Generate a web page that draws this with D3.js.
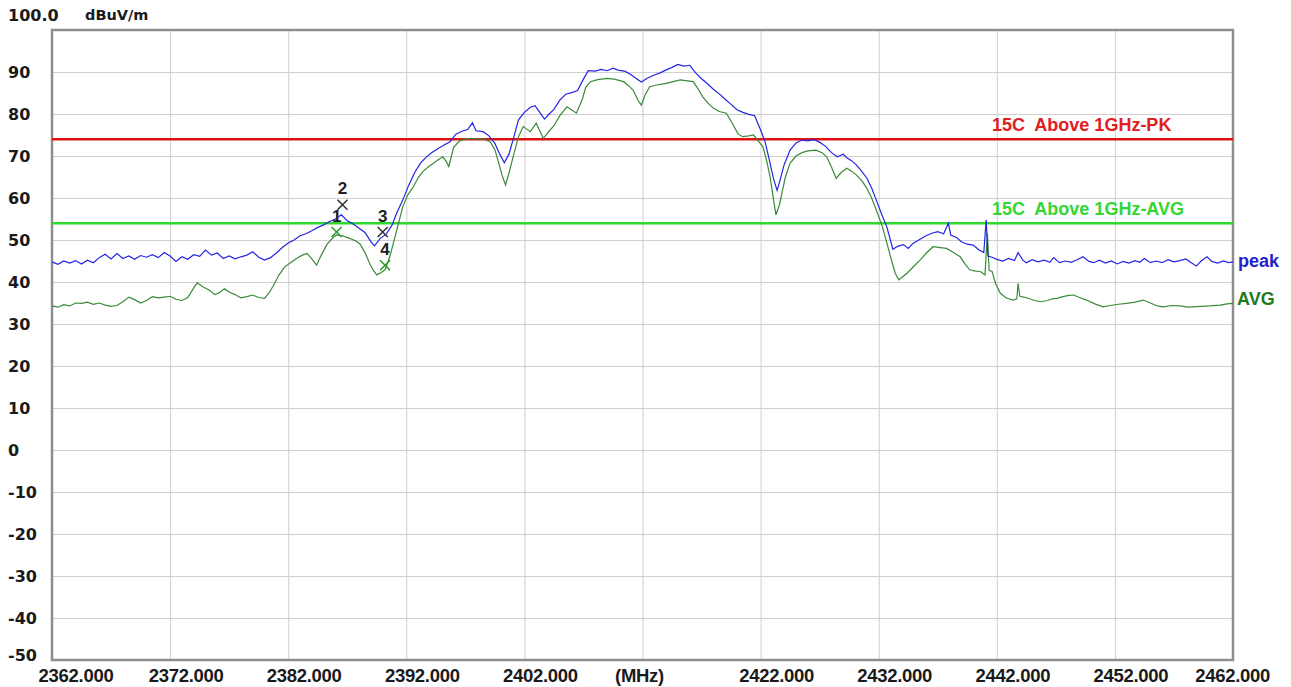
<!DOCTYPE html>
<html>
<head>
<meta charset="utf-8">
<script src="https://cdn.jsdelivr.net/npm/d3@7"></script>
<style>
  body { margin: 0; background: #fff; }
  svg { display: block; }
</style>
</head>
<body>
<svg id="chart" width="1291" height="687"></svg>
<script>
// frequency axis (MHz) and level axis (dBuV/m)
const xTicks = [2362, 2372, 2382, 2392, 2402, 2412, 2422, 2432, 2442, 2452, 2462]
const xTickLabels = ['2362.000', '2372.000', '2382.000', '2392.000', '2402.000', '(MHz)', '2422.000', '2432.000', '2442.000', '2452.000', '2462.000']
const yTicks = [100, 90, 80, 70, 60, 50, 40, 30, 20, 10, 0, -10, -20, -30, -40, -50]
const yTickLabels = ['100.0', '90', '80', '70', '60', '50', '40', '30', '20', '10', '0', '-10', '-20', '-30', '-40', '-50']

// limit lines
const limitNames = ['15C  Above 1GHz-PK', '15C  Above 1GHz-AVG']
const limitValues = [74, 54]

// peak trace
const peakMHz = [2362, 2362.5, 2363, 2363.5, 2364, 2364.5, 2365, 2365.5, 2366, 2366.5, 2367, 2367.5, 2368, 2368.5, 2369, 2369.5, 2370, 2370.5, 2371, 2371.5,
  2372, 2372.5, 2373, 2373.5, 2374, 2374.5, 2375, 2375.5, 2376, 2376.5, 2377, 2377.5, 2378, 2378.5, 2379, 2379.5, 2380, 2380.5, 2381, 2381.5,
  2382, 2382.5, 2383, 2383.5, 2384, 2384.5, 2385, 2385.5, 2386, 2386.5, 2387, 2387.5, 2388, 2388.5, 2389, 2389.3, 2389.8, 2390.3, 2390.8, 2391.2,
  2391.7, 2392.2, 2392.7, 2393.2, 2393.7, 2394.2, 2394.7, 2395.2, 2395.7, 2396.2, 2396.7, 2397.2, 2397.6, 2397.9, 2398.5, 2399, 2399.5, 2399.9, 2400.3, 2400.7,
  2401.1, 2401.5, 2402, 2402.5, 2402.9, 2403.3, 2403.7, 2404.1, 2404.5, 2405, 2405.5, 2406, 2406.5, 2407, 2407.4, 2408, 2408.5, 2409, 2409.5, 2410,
  2410.5, 2411, 2411.5, 2411.9, 2412.4, 2413, 2413.5, 2414, 2414.5, 2415, 2415.5, 2416, 2416.5, 2417, 2417.5, 2418, 2418.5, 2419, 2419.5, 2420,
  2420.5, 2421, 2421.5, 2422, 2422.4, 2422.8, 2423.1, 2423.4, 2423.7, 2424, 2424.5, 2425, 2425.5, 2426, 2426.5, 2427, 2427.5, 2428, 2428.5, 2429,
  2429.3, 2429.7, 2430.1, 2430.5, 2431, 2431.4, 2431.8, 2432.2, 2432.7, 2433.2, 2433.6, 2434.1, 2434.5, 2434.9, 2435.5, 2436, 2436.5, 2437, 2437.5, 2437.9,
  2438.1, 2438.6, 2439, 2439.5, 2440, 2440.5, 2440.9, 2441.1, 2441.25, 2441.6, 2442, 2442.5, 2443, 2443.5, 2443.8, 2444.2, 2444.5, 2445, 2445.5, 2446,
  2446.5, 2446.8, 2447.3, 2447.8, 2448.3, 2448.8, 2449.3, 2449.8, 2450.2, 2450.7, 2451.2, 2451.7, 2452.2, 2452.7, 2453.2, 2453.7, 2454.1, 2454.5, 2455, 2455.5,
  2456, 2456.5, 2457, 2457.5, 2458, 2458.5, 2458.9, 2459.3, 2459.8, 2460.2, 2460.7, 2461.2, 2461.6, 2462]
const peakDb = [44.8, 44.2, 45.0, 44.5, 45.1, 44.3, 45.2, 44.6, 45.8, 46.6, 45.5, 46.8, 45.6, 46.2, 45.4, 46.3, 45.9, 46.5, 45.8, 47.0,
  46.2, 44.9, 46.0, 45.4, 46.5, 46.1, 47.6, 46.4, 46.9, 45.6, 46.2, 45.5, 46.0, 46.4, 47.2, 45.9, 45.2, 45.8, 46.9, 48.2,
  49.3, 50.0, 51.0, 51.5, 52.2, 53.0, 53.6, 54.4, 55.0, 56.0, 54.6, 53.8, 52.8, 51.8, 49.6, 48.6, 50.4, 51.4, 53.6, 56.5,
  59.5, 63.0, 66.0, 68.3, 69.8, 70.9, 71.8, 72.6, 73.4, 75.2, 75.9, 76.3, 77.9, 76.0, 75.8, 74.8, 73.0, 70.5, 68.4, 70.5,
  74.5, 78.6, 80.4, 81.6, 82.0, 80.4, 78.8, 80.0, 81.1, 83.3, 84.7, 85.1, 85.6, 88.3, 90.3, 90.2, 90.6, 90.3, 90.9, 90.4,
  90.2, 89.4, 88.4, 87.6, 88.5, 89.3, 89.8, 90.5, 91.1, 91.8, 91.4, 91.6, 89.8, 88.4, 87.2, 85.9, 84.8, 83.5, 82.3, 81.0,
  80.4, 79.9, 79.6, 76.2, 73.2, 68.3, 64.5, 61.8, 64.8, 68.0, 71.4, 73.1, 73.8, 73.6, 73.9, 73.3, 72.3, 70.8, 69.8, 70.4,
  69.6, 68.9, 67.9, 66.6, 64.7, 62.4, 59.5, 56.5, 53.0, 47.8, 48.5, 48.9, 48.0, 49.2, 50.2, 51.0, 51.6, 52.0, 51.5, 54.0,
  51.2, 50.6, 49.6, 49.0, 48.8, 47.6, 47.0, 54.8, 46.2, 45.9, 45.4, 45.0, 45.6, 45.1, 47.0, 45.2, 44.6, 45.3, 44.8, 45.2,
  44.7, 45.8, 44.6, 45.0, 44.7, 45.3, 46.0, 44.9, 44.6, 45.2, 44.5, 45.0, 44.3, 44.9, 44.5, 45.1, 44.7, 45.6, 44.6, 45.0,
  44.6, 45.3, 44.8, 45.1, 45.5, 44.5, 43.8, 45.0, 46.0, 44.9, 44.5, 45.0, 44.6, 44.8]

// average trace
const avgMHz = [2362, 2362.5, 2363, 2363.5, 2364, 2364.5, 2365, 2365.5, 2366, 2366.5, 2367, 2367.5, 2368, 2368.5, 2369, 2369.5, 2370, 2370.5, 2371, 2371.5,
  2372, 2372.5, 2373, 2373.5, 2374, 2374.3, 2374.8, 2375.3, 2375.8, 2376.2, 2376.6, 2377, 2377.5, 2378, 2378.5, 2379, 2379.5, 2380, 2380.4, 2380.8,
  2381.2, 2381.7, 2382.2, 2382.7, 2383.2, 2383.6, 2384, 2384.4, 2384.8, 2385.3, 2385.8, 2386.1, 2386.6, 2387.2, 2387.7, 2388.1, 2388.5, 2388.9, 2389.2, 2389.5,
  2389.9, 2390.2, 2390.6, 2390.9, 2391.2, 2391.7, 2392.1, 2392.6, 2393, 2393.4, 2393.9, 2394.3, 2394.7, 2395.1, 2395.4, 2395.6, 2396, 2396.5, 2397, 2397.5,
  2398, 2398.5, 2399.1, 2399.5, 2399.8, 2400.1, 2400.4, 2400.7, 2401.1, 2401.5, 2401.9, 2402.2, 2402.5, 2403, 2403.3, 2403.6, 2404, 2404.5, 2405, 2405.6,
  2406, 2406.4, 2406.9, 2407.2, 2407.6, 2408.2, 2409, 2409.6, 2410.4, 2410.8, 2411.2, 2411.6, 2411.9, 2412.2, 2412.6, 2413.2, 2414, 2414.6, 2415.2, 2415.8,
  2416.3, 2416.7, 2417.1, 2417.6, 2418, 2418.5, 2419.1, 2419.6, 2420.1, 2420.5, 2421, 2421.4, 2421.8, 2422.2, 2422.5, 2422.8, 2423.1, 2423.3, 2423.6, 2423.8,
  2424.1, 2424.5, 2425, 2425.5, 2426, 2426.7, 2427.2, 2427.6, 2428, 2428.4, 2428.8, 2429.3, 2429.7, 2430.1, 2430.6, 2431, 2431.4, 2431.8, 2432.3, 2432.7,
  2433.1, 2433.4, 2433.7, 2434, 2434.4, 2435, 2435.5, 2436, 2436.6, 2437.2, 2437.75, 2438.3, 2438.9, 2439.3, 2439.7, 2440.2, 2440.6, 2441, 2441.2, 2441.35,
  2441.6, 2441.9, 2442.3, 2442.8, 2443.4, 2443.7, 2443.8, 2443.95, 2444.1, 2444.6, 2445.2, 2445.7, 2446.3, 2446.7, 2447.1, 2447.6, 2448.1, 2448.5, 2449, 2449.6,
  2450.3, 2451, 2451.6, 2452.3, 2453, 2453.7, 2454.4, 2455, 2455.6, 2456.1, 2456.8, 2457.5, 2458.2, 2458.6, 2459.3, 2460, 2460.9, 2461.5, 2462]
const avgDb = [34.3, 34.0, 34.6, 34.3, 35.0, 34.9, 35.2, 34.7, 35.0, 34.5, 34.2, 34.4, 35.3, 36.4, 35.8, 35.0, 35.6, 36.5, 36.2, 36.4,
  36.6, 35.9, 35.6, 36.3, 38.6, 39.8, 38.8, 38.1, 37.0, 37.5, 38.4, 37.6, 37.0, 36.2, 36.5, 36.9, 36.3, 36.1, 37.5, 39.4,
  41.6, 43.6, 44.6, 45.6, 46.4, 46.8, 45.5, 44.0, 46.4, 49.0, 50.6, 51.2, 51.0, 50.4, 49.8, 49.0, 47.0, 44.4, 42.8, 41.7,
  42.3, 42.9, 46.0, 49.2, 52.4, 57.9, 60.6, 62.7, 64.8, 66.3, 67.5, 68.3, 69.1, 69.8, 68.6, 67.5, 72.0, 73.6, 74.0, 74.2,
  74.0, 74.1, 73.4, 71.5, 68.6, 65.5, 63.1, 66.0, 70.4, 74.6, 77.0, 76.4, 75.8, 77.8, 76.0, 74.2, 75.6, 77.2, 79.6, 81.7,
  81.0, 80.2, 83.5, 86.4, 87.7, 88.2, 88.5, 88.3, 87.7, 86.8, 85.7, 83.4, 82.1, 84.4, 86.5, 86.9, 87.3, 87.7, 88.1, 87.9,
  87.7, 86.0, 84.1, 82.4, 81.4, 80.6, 80.2, 77.8, 75.2, 74.6, 74.8, 75.0, 73.6, 72.2, 69.0, 65.1, 59.5, 56.0, 58.4, 61.1,
  65.0, 68.3, 70.0, 70.8, 71.2, 71.4, 70.8, 69.8, 67.4, 64.7, 66.0, 67.1, 66.4, 65.5, 64.0, 62.3, 60.0, 57.1, 53.3, 49.2,
  45.0, 42.1, 40.5, 41.2, 42.1, 43.8, 45.2, 46.8, 48.4, 48.2, 48.0, 47.1, 46.0, 44.3, 42.9, 42.6, 42.5, 41.7, 51.6, 42.8,
  42.5, 39.6, 37.3, 36.2, 35.7, 36.0, 39.7, 36.6, 36.5, 36.2, 35.6, 35.3, 35.6, 36.0, 36.1, 36.5, 36.8, 36.9, 36.3, 35.7,
  34.8, 34.1, 34.4, 34.7, 34.9, 35.2, 35.7, 35.0, 34.3, 34.1, 34.4, 34.3, 34.0, 34.1, 34.2, 34.3, 34.5, 34.8, 34.9]

// markers
const markerNames = ['1', '2', '3', '4']
const markerMHz = [2386.1, 2386.6, 2390.0, 2390.2]
const markerDb = [51.9, 58.4, 51.9, 44.0]
const markerColors = ['#2c9a2c', '#333333', '#333333', '#2c9a2c']

const svg = d3.select('#chart')
const plotLeft = 52, plotRight = 1233, plotTop = 30, plotBottom = 660

const x = d3.scaleLinear().domain([2362, 2462]).range([plotLeft, plotRight])
const y = d3.scaleLinear().domain([-50, 100]).range([plotBottom, plotTop])

// grid
svg.append('g')
  .attr('transform', `translate(0, ${plotBottom})`)
  .call(d3.axisBottom(x).tickValues(xTicks.slice(1, -1)).tickSize(-(plotBottom - plotTop)).tickFormat(''))
  .call(g => g.select('.domain').remove())
  .selectAll('line').attr('stroke', '#cfcfcf')

svg.append('g')
  .attr('transform', `translate(${plotLeft}, 0)`)
  .call(d3.axisLeft(y).tickValues(yTicks.slice(1, -1)).tickSize(-(plotRight - plotLeft)).tickFormat(''))
  .call(g => g.select('.domain').remove())
  .selectAll('line').attr('stroke', '#cfcfcf')

// frame
svg.append('rect')
  .attr('x', plotLeft).attr('y', plotTop)
  .attr('width', plotRight - plotLeft).attr('height', plotBottom - plotTop)
  .attr('fill', 'none').attr('stroke', '#8e8e8e').attr('stroke-width', 2.5)

// y labels
svg.append('g').selectAll('text').data(yTicks).enter().append('text')
  .attr('x', 8)
  .attr('y', (d, i) => i === 0 ? 15 : (i === yTicks.length - 1 ? y(d) - 5 : y(d)))
  .attr('dominant-baseline', 'central')
  .style('font-family', '"DejaVu Sans", sans-serif')
  .style('font-weight', 'bold')
  .style('font-size', '16px')
  .attr('fill', '#1a1a1a')
  .text((d, i) => yTickLabels[i])

svg.append('text')
  .attr('x', 85).attr('y', 15)
  .attr('dominant-baseline', 'central')
  .style('font-family', '"DejaVu Sans", sans-serif')
  .style('font-weight', 'bold')
  .style('font-size', '14.5px')
  .attr('fill', '#1a1a1a')
  .text('dBuV/m')

// x labels
svg.append('g').selectAll('text').data(xTicks).enter().append('text')
  .attr('x', (d, i) => {
    if (i === xTicks.length - 1) return x(d) + 37
    if (i === 0) return x(d) + 24
    if (xTickLabels[i] === '(MHz)') return x(d) - 3
    return x(d) + 16
  })
  .attr('y', 675)
  .attr('text-anchor', (d, i) => i === xTicks.length - 1 ? 'end' : 'middle')
  .attr('dominant-baseline', 'central')
  .style('font-family', '"Liberation Sans", Arial, sans-serif')
  .style('font-weight', 'bold')
  .style('font-size', '18.5px')
  .style('letter-spacing', '-0.3px')
  .attr('fill', '#1a1a1a')
  .text((d, i) => xTickLabels[i])

// limit lines
const limitColors = ['#e01010', '#2fd82f']
const limitTextColors = ['#e02020', '#33d633']
svg.append('g').selectAll('line').data(limitValues).enter().append('line')
  .attr('x1', plotLeft).attr('x2', plotRight)
  .attr('y1', d => y(d)).attr('y2', d => y(d))
  .attr('stroke', (d, i) => limitColors[i]).attr('stroke-width', 2.5)

svg.append('g').selectAll('text').data(limitValues).enter().append('text')
  .attr('x', 992).attr('y', d => y(d) - 14)
  .attr('dominant-baseline', 'central')
  .style('white-space', 'pre')
  .style('font-family', '"Liberation Sans", Arial, sans-serif')
  .style('font-weight', 'bold')
  .style('font-size', '18px')
  .attr('fill', (d, i) => limitTextColors[i])
  .text((d, i) => limitNames[i])

// traces
const line = d3.line().x(d => x(d[0])).y(d => y(d[1]))

svg.append('path')
  .datum(avgMHz.map((f, i) => [f, avgDb[i]]))
  .attr('d', line)
  .attr('fill', 'none').attr('stroke', '#3a8a3a').attr('stroke-width', 1.2)

svg.append('path')
  .datum(peakMHz.map((f, i) => [f, peakDb[i]]))
  .attr('d', line)
  .attr('fill', 'none').attr('stroke', '#2424e6').attr('stroke-width', 1.2)

// trace names
svg.append('text')
  .attr('x', 1238).attr('y', y(peakDb[peakDb.length - 1]) - 1)
  .attr('dominant-baseline', 'central')
  .style('font-family', '"Liberation Sans", Arial, sans-serif')
  .style('font-weight', 'bold').style('font-size', '18px')
  .attr('fill', '#2222cc')
  .text('peak')

svg.append('text')
  .attr('x', 1237).attr('y', y(avgDb[avgDb.length - 1]) - 4)
  .attr('dominant-baseline', 'central')
  .style('font-family', '"Liberation Sans", Arial, sans-serif')
  .style('font-weight', 'bold').style('font-size', '18px')
  .attr('fill', '#1f7a1f')
  .text('AVG')

// markers
const marks = svg.append('g').selectAll('g').data(markerMHz).enter().append('g')
  .attr('transform', (d, i) => `translate(${x(d)}, ${y(markerDb[i])})`)

marks.append('path')
  .attr('d', 'M-5,-5L5,5M-5,5L5,-5')
  .attr('stroke', (d, i) => markerColors[i]).attr('stroke-width', 1.6)

marks.append('text')
  .attr('y', -16)
  .attr('text-anchor', 'middle')
  .attr('dominant-baseline', 'central')
  .style('font-family', '"Liberation Sans", Arial, sans-serif')
  .style('font-weight', 'bold').style('font-size', '17px')
  .attr('fill', '#222')
  .text((d, i) => markerNames[i])
</script>
</body>
</html>
